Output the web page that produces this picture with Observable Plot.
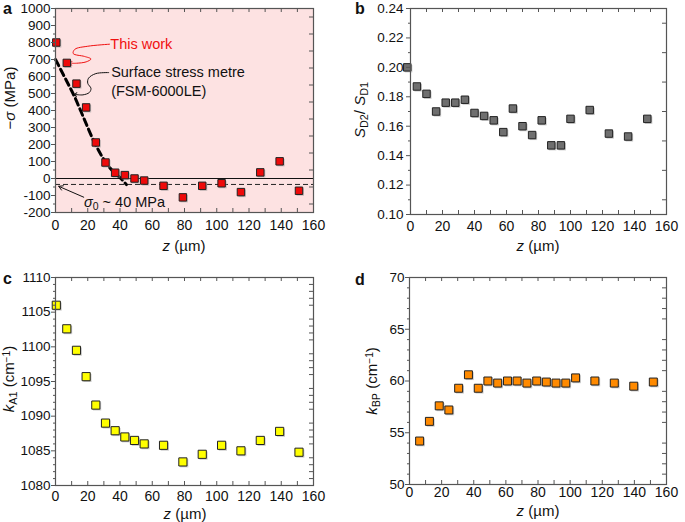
<!DOCTYPE html>
<html>
<head>
<meta charset="utf-8">
<script src="https://cdn.jsdelivr.net/npm/d3@7"></script>
<script src="https://cdn.jsdelivr.net/npm/@observablehq/plot@0.6"></script>
<style>
  html, body { margin: 0; padding: 0; background: #fff; }
  #root { position: relative; width: 685px; height: 522px; font-family: "Liberation Sans", Arial, sans-serif; }
  .panel { position: absolute; }
  .plabel { position: absolute; font-weight: bold; font-size: 16px; line-height: 16px; color: #111; }
</style>
</head>
<body>
<div id="root"></div>
<script>
// ---------- data ----------
const zTicks = [0, 20, 40, 60, 80, 100, 120, 140, 160];

// (a) -sigma (MPa) vs z
const zA = [0.5, 7, 13, 19, 25, 31, 37, 43, 49, 55, 67, 79, 91, 103, 115, 127, 139, 151];
const sigA = [800, 680, 558, 418, 212, 94, 34, 20, 0, -12, -43, -111, -43, -28, -80, 36, 101, -72];
const fsmZ = [0, 6, 12, 18, 24, 30, 36, 40, 44];
const fsmS = [700, 590, 477, 345, 215, 112, 38, 5, -36];
const sigma0 = -35;
const aTicks = [-200, -100, 0, 100, 200, 300, 400, 500, 600, 700, 800, 900, 1000];

// (b) S_D2 / S_D1
const zB = [-2, 4, 10, 16, 22, 28, 34, 40, 46, 52, 58, 64, 70, 76, 82, 88, 94, 100, 112, 124, 136, 148];
const ratioB = [0.200, 0.187, 0.182, 0.170, 0.176, 0.176, 0.178, 0.169, 0.167, 0.164, 0.156, 0.172, 0.160, 0.154, 0.164, 0.147, 0.147, 0.165, 0.171, 0.155, 0.153, 0.165];
const bTicks = [0.10, 0.12, 0.14, 0.16, 0.18, 0.20, 0.22, 0.24];

// (c) k_A1
const zC = [0.5, 7, 13, 19, 25, 31, 37, 43, 49, 55, 67, 79, 91, 103, 115, 127, 139, 151];
const kA1 = [1106.0, 1102.6, 1099.5, 1095.7, 1091.6, 1089.0, 1087.9, 1087.0, 1086.5, 1086.0, 1085.8, 1083.4, 1084.5, 1085.8, 1085.0, 1086.5, 1087.8, 1084.8];
const cTicks = [1080, 1085, 1090, 1095, 1100, 1105, 1110];

// (d) k_BP
const zD = [6.3, 12.4, 18.5, 24.5, 30.6, 36.7, 42.8, 48.8, 54.9, 61, 67, 73.1, 79.2, 85.2, 91.2, 97.3, 103.4, 115.4, 127.5, 139.6, 151.8];
const kBP = [54.2, 56.1, 57.6, 57.2, 59.3, 60.6, 59.3, 60.0, 59.8, 60.0, 60.0, 59.8, 60.0, 59.9, 59.8, 59.8, 60.3, 60.0, 59.8, 59.5, 59.9];
const dTicks = [50, 55, 60, 65, 70];

// annotation paths (data coordinates of panel a)
const redArrowZ = [33.5, 20, 12, 11, 18, 22, 19, 13, 9.5];
const redArrowS = [790, 778, 760, 735, 718, 703, 686, 678, 678];
const blkArrowZ = [33, 25, 20.5, 20, 22, 21, 17, 12.5];
const blkArrowS = [623, 617, 590, 560, 530, 506, 492, 494];

// ---------- helpers ----------
const FONT = '"Liberation Sans", Arial, sans-serif';
const SPINE = "#555";

function frameTicks(xd, yd, pw, ph, xMinor, yMajor, yMinor) {
  const kx = (xd[1] - xd[0]) / pw, ky = (yd[1] - yd[0]) / ph;
  const s = {stroke: SPINE, strokeWidth: 1};
  return [
    Plot.ruleX(xMinor, {x: d => d, y1: yd[0], y2: yd[0] + 4 * ky, ...s}),
    Plot.ruleX(xMinor, {x: d => d, y1: yd[1], y2: yd[1] - 4 * ky, ...s}),
    Plot.ruleY(yMajor, {y: d => d, x1: xd[0], x2: xd[0] - 4 * kx, ...s}),
    Plot.ruleY(yMinor, {y: d => d, x1: xd[0], x2: xd[0] - 2 * kx, ...s}),
    Plot.ruleY(yMinor, {y: d => d, x1: xd[1], x2: xd[1] - 4 * kx, ...s})
  ];
}

function squares(z, v, fill, r) {
  const rows = z.map((d, i) => ({z: d, v: v[i]}));
  return [
    Plot.dot(rows, {x: "z", y: "v", symbol: "square", r, fill: "#9a9a9a", fillOpacity: 0.55, dx: 1.3, dy: 1.3}),
    Plot.dot(rows, {x: "z", y: "v", symbol: "square", r, fill, stroke: "#222", strokeWidth: 1})
  ];
}

function makePanel(cfg) {
  const {W, H, ml, mr, mt, mb, xd, yd, yTicks, yMinor, yFmt, marks, yPad, xPad} = cfg;
  const pw = W - ml - mr, ph = H - mt - mb;
  const svg = Plot.plot({
    width: W, height: H,
    marginLeft: ml, marginRight: mr, marginTop: mt, marginBottom: mb,
    style: {fontFamily: FONT, color: "#111", background: "transparent", overflow: "visible"},
    x: {domain: xd},
    y: {domain: yd},
    marks: [
      ...marks,
      Plot.frame({stroke: SPINE, strokeWidth: 1.2}),
      ...frameTicks(xd, yd, pw, ph, d3.range(0, 161, 10), yTicks, yMinor),
      Plot.axisX({ticks: zTicks, tickSize: 0, tickPadding: xPad, fontSize: 14, tickFormat: d => String(d), label: null}),
      Plot.axisY({ticks: yTicks, tickSize: 0, tickPadding: yPad, fontSize: 13.5, tickFormat: yFmt, label: null})
    ]
  });
  svg.style.overflow = "visible";
  return svg;
}

function place(el, left, top) {
  el.classList.add("panel");
  el.style.left = left + "px";
  el.style.top = top + "px";
  document.getElementById("root").appendChild(el);
}

function addText(svg, x, y, parts, {rotate = 0, size = 15, anchor = "middle"} = {}) {
  const t = d3.select(svg).append("text")
    .attr("transform", `translate(${x},${y}) rotate(${rotate})`)
    .attr("text-anchor", anchor)
    .attr("font-family", FONT)
    .attr("font-size", size)
    .attr("fill", "#111");
  for (const p of parts) {
    const ts = t.append("tspan").text(p.t);
    if (p.i) ts.attr("font-style", "italic");
    if (p.sub) ts.attr("baseline-shift", "-25%").attr("font-size", size * 0.72);
    if (p.sup) ts.attr("baseline-shift", "45%").attr("font-size", size * 0.68);
  }
  return t;
}

function xTitle(svg, x, y) {
  addText(svg, x, y, [{t: "z", i: true}, {t: " (µm)"}]);
}

// ---------- panel a ----------
const fsmRows = fsmZ.map((d, i) => ({z: d, s: fsmS[i]}));
const redRows = redArrowZ.map((d, i) => ({z: d, s: redArrowS[i]}));
const blkRows = blkArrowZ.map((d, i) => ({z: d, s: blkArrowS[i]}));

const svgA = makePanel({
  W: 340, H: 260, ml: 55, mr: 27, mt: 8, mb: 48,
  xd: [0, 160], yd: [-200, 1000],
  yTicks: aTicks, yMinor: d3.range(-150, 1000, 100), yFmt: d => String(d), yPad: 5, xPad: 8,
  marks: [
    Plot.frame({fill: "#fde2e2", stroke: null}),
    Plot.ruleY([0], {stroke: "#111", strokeWidth: 1}),
    Plot.ruleY([sigma0], {stroke: "#222", strokeWidth: 1, strokeDasharray: "5,3"}),
    Plot.line(fsmRows, {x: "z", y: "s", stroke: "#000", strokeWidth: 3, strokeDasharray: "7,4", curve: "monotone-x"}),
    Plot.line(redRows, {x: "z", y: "s", stroke: "#f01010", strokeWidth: 1, curve: "catmull-rom", markerEnd: "arrow"}),
    Plot.line(blkRows, {x: "z", y: "s", stroke: "#111", strokeWidth: 1, curve: "catmull-rom", markerEnd: "arrow"}),
    Plot.arrow([{x1: 17.5, y1: -110, x2: 2, y2: -46}], {x1: "x1", y1: "y1", x2: "x2", y2: "y2", stroke: "#111", strokeWidth: 1, headLength: 7, bend: 0}),
    ...squares(zA, sigA, "#ee0a0a", 4.2),
    Plot.text(["This work"], {x: 34, y: 790, text: d => d, textAnchor: "start", fill: "#f01010", fontSize: 14.5, fontFamily: FONT}),
    Plot.text(["Surface stress metre"], {x: 34.5, y: 623, text: d => d, textAnchor: "start", fill: "#111", fontSize: 14.5, fontFamily: FONT}),
    Plot.text(["(FSM-6000LE)"], {x: 34.5, y: 512, text: d => d, textAnchor: "start", fill: "#111", fontSize: 14.5, fontFamily: FONT})
  ]
});
// sigma0 label with subscript
(function () {
  const x = d3.scaleLinear([0, 160], [55, 313]), y = d3.scaleLinear([-200, 1000], [212, 8]);
  addText(svgA, x(18), y(-140) + 5, [{t: "σ", i: true}, {t: "0", sub: true}, {t: " ~ 40 MPa"}], {anchor: "start", size: 14.5});
})();
addText(svgA, 15, 98, [{t: "−"}, {t: "σ", i: true}, {t: " (MPa)"}], {rotate: -90});
xTitle(svgA, 184, 251);
place(svgA, 0, 0);

// ---------- panel b ----------
const svgB = makePanel({
  W: 345, H: 260, ml: 70, mr: 19, mt: 8, mb: 46,
  xd: [0, 160], yd: [0.10, 0.24],
  yTicks: bTicks, yMinor: d3.range(0.11, 0.24, 0.02), yFmt: d3.format(".2f"), yPad: 7, xPad: 7,
  marks: [...squares(zB, ratioB, "#6f6f6f", 4.2)]
});
addText(svgB, 25, 110, [{t: "S", i: true}, {t: "D2", sub: true}, {t: "/ "}, {t: "S", i: true}, {t: "D1", sub: true}], {rotate: -90});
xTitle(svgB, 198, 251);
place(svgB, 340, 0);

// ---------- panel c ----------
const svgC = makePanel({
  W: 340, H: 262, ml: 55, mr: 27, mt: 17, mb: 37,
  xd: [0, 160], yd: [1080, 1110],
  yTicks: cTicks, yMinor: d3.range(1081, 1110, 1).filter(d => d % 5 !== 0), yFmt: d => String(d), yPad: 5, xPad: 6,
  marks: [...squares(zC, kA1, "#ffff00", 4.6)]
});
addText(svgC, 14, 119, [{t: "k", i: true}, {t: "A1", sub: true}, {t: " (cm"}, {t: "−1", sup: true}, {t: ")"}], {rotate: -90});
xTitle(svgC, 185, 259);
place(svgC, 0, 260);

// ---------- panel d ----------
const svgD = makePanel({
  W: 345, H: 262, ml: 69, mr: 19, mt: 17, mb: 38,
  xd: [0, 160], yd: [50, 70],
  yTicks: dTicks, yMinor: d3.range(51, 70, 1).filter(d => d % 5 !== 0), yFmt: d => String(d), yPad: 5, xPad: 3,
  marks: [...squares(zD, kBP, "#ff8a00", 4.5)]
});
addText(svgD, 37, 121, [{t: "k", i: true}, {t: "BP", sub: true}, {t: " (cm"}, {t: "−1", sup: true}, {t: ")"}], {rotate: -90});
xTitle(svgD, 198, 256);
place(svgD, 340, 260);

// panel letters
[["a", 3, 1], ["b", 355, 1], ["c", 3, 271], ["d", 355, 272]].forEach(([t, l, tp]) => {
  const d = document.createElement("div");
  d.className = "plabel";
  d.textContent = t;
  d.style.left = l + "px";
  d.style.top = tp + "px";
  document.getElementById("root").appendChild(d);
});
</script>
</body>
</html>
